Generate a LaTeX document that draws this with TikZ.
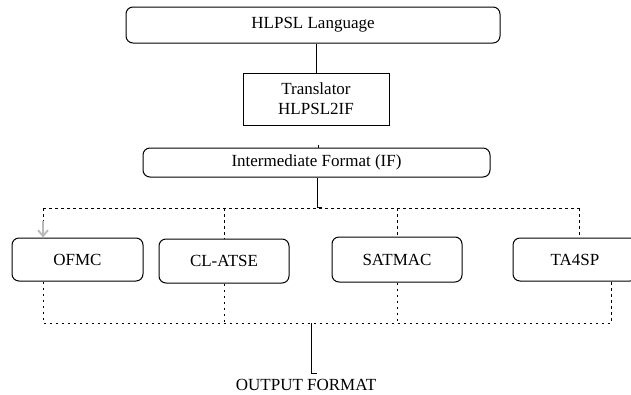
\documentclass[tikz,border=0pt]{standalone}
\usepackage{fontspec}
\setmainfont{Liberation Serif}
\usetikzlibrary{arrows.meta}
\begin{document}
\begin{tikzpicture}[x=1pt,y=-1pt,
  box/.style={draw,rounded corners=7pt,line width=1pt,inner sep=0pt,font=\fontsize{17}{20}\selectfont},
  sqbox/.style={draw,line width=1pt,inner sep=0pt,align=center,font=\fontsize{17}{20}\selectfont},
  solidline/.style={line width=1pt},
  dots/.style={line width=1pt,dash pattern=on 2.5pt off 3.5pt},
  lbl/.style={inner sep=0pt,font=\fontsize{17}{20}\selectfont}]
\clip (0,0) rectangle (631,394);
\fill[white] (0,0) rectangle (631,394);

\node[box,minimum width=374,minimum height=36] (hlpsl) at (313,25) {HLPSL Language};
\node[sqbox,minimum width=146,minimum height=52] (trans) at (316,99) {Translator\\HLPSL2IF};
\node[box,minimum width=347,minimum height=29] (if) at (316.5,162.5) {Intermediate Format (IF)};
\node[box,minimum width=131,minimum height=43] (ofmc) at (77.5,259.5) {OFMC};
\node[box,minimum width=130,minimum height=44] (clatse) at (224,261) {CL-ATSE};
\node[box,minimum width=130,minimum height=45] (satmac) at (397,259.5) {SATMAC};
\node[box,minimum width=124,minimum height=43] (ta4sp) at (575,259.5) {TA4SP};
\node[lbl] (out) at (306,385) {OUTPUT FORMAT};

% top connections
\draw[solidline] (trans.north) -- (trans.north |- hlpsl.south);
\draw[solidline] ([xshift=1.5]if.north) -- ++(0,-3);

\coordinate (j1) at (317,207);
\draw[solidline] (if.south -| j1) -- (j1) -- ++(5,0);

\coordinate (tA) at (43,208);
\coordinate (tB) at (224,208);
\coordinate (tC) at (397,208);
\coordinate (tD) at (579,208);
\draw[dots] (tA) -- (tD);
\draw[dots] (tA) -- ([yshift=16]tA |- ofmc.north);
\draw[gray!55,line width=1.8pt,-{Straight Barb[length=6pt,width=10pt]}] ([yshift=17]tA |- ofmc.north) -- (tA |- ofmc.north);
\draw[dots] (tB) -- (clatse.north);
\draw[dots] (tC) -- (satmac.north);
\draw[dots] (tD) -- (tD |- ta4sp.north);

% bottom connections
\coordinate (bA) at (43,323);
\coordinate (bB) at (224,323);
\coordinate (bC) at (397,323);
\coordinate (bD) at (611,323);
\draw[dots] (bA |- ofmc.south) -- (bA) -- (bD) -- (bD |- ta4sp.south);
\draw[dots] (clatse.south) -- (bB);
\draw[dots] (satmac.south) -- (bC);

\coordinate (o1) at (311,323);
\coordinate (o2) at (311,373);
\draw[solidline] (o1) -- (o2) -- ++(6,0);
\end{tikzpicture}
\end{document}
